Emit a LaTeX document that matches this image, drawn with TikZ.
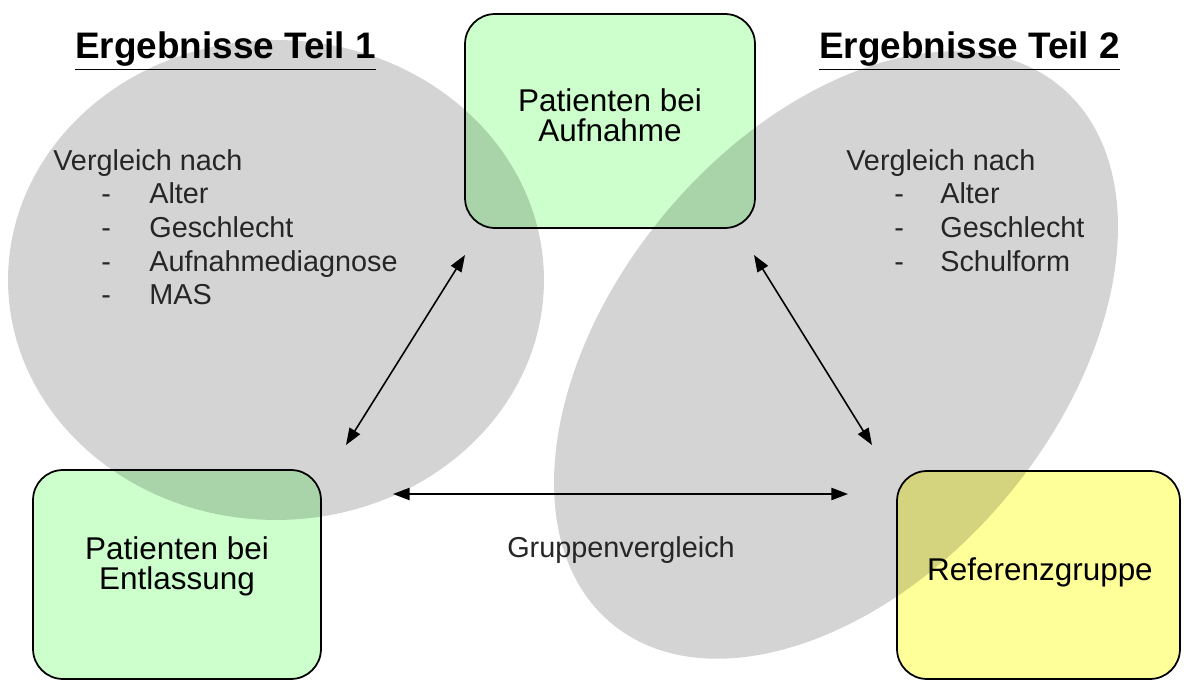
\documentclass[tikz,border=0pt]{standalone}
\usepackage{fontspec}
\setmainfont{Liberation Sans}
\usetikzlibrary{arrows.meta}
\definecolor{boxgreen}{HTML}{CCFFCC}
\definecolor{boxyellow}{HTML}{FFFF99}
\begin{document}
\begin{tikzpicture}[x=0.02cm,y=0.02cm,
  box/.style={draw=black, line width=1pt, rounded corners=0.6cm, inner sep=0pt},
  zone/.style={fill=black, fill opacity=0.17},
  hdr/.style={font=\fontsize{21}{25}\selectfont\bfseries, anchor=base, inner sep=0pt},
  lst/.style={font=\fontsize{16.4}{19}\selectfont, anchor=base west, inner sep=0pt, text=black!85},
  btxt/.style={font=\fontsize{17.9}{17}\selectfont, align=center, inner sep=0pt},
  link/.style={line width=0.9pt, {Triangle[length=9.5pt,width=7pt]}-{Triangle[length=9.5pt,width=7pt]}}
]
\useasboundingbox (0,0) rectangle (1184,680);

% boxes
\node[box, fill=boxgreen, minimum width=5.8cm, minimum height=4.28cm] (auf) at (610,559) {};
\node[box, fill=boxgreen, minimum width=5.76cm, minimum height=4.18cm] (ent) at (177,105.5) {};
\node[box, fill=boxyellow, minimum width=5.66cm, minimum height=4.16cm] (ref) at (1038.5,105) {};

% grey zones
\fill[zone] (276,400) ellipse [x radius=5.36cm, y radius=4.8cm];
\fill[zone, rotate around={50:(836,325)}] (836,325) ellipse [x radius=7cm, y radius=4.44cm];

% headers
\node[hdr] (h1) at (225.5,621) {\underline{Ergebnisse Teil 1}};
\node[hdr] (h2) at (969.5,621) {\underline{Ergebnisse Teil 2}};

% left list
\node[lst] (l0) at (53,509) {Vergleich nach};
\node[lst] (l1d) at (101,476) {-}; \node[lst] (l1) at (149,476) {Alter};
\node[lst] (l2d) at (101,442) {-}; \node[lst] (l2) at (149,442) {Geschlecht};
\node[lst] (l3d) at (101,408) {-}; \node[lst] (l3) at (149,408) {Aufnahmediagnose};
\node[lst] (l4d) at (101,375) {-}; \node[lst] (l4) at (149,375) {MAS};

% right list
\node[lst] (r0) at (846,509) {Vergleich nach};
\node[lst] (r1d) at (894,476) {-}; \node[lst] (r1) at (940,476) {Alter};
\node[lst] (r2d) at (894,442) {-}; \node[lst] (r2) at (940,442) {Geschlecht};
\node[lst] (r3d) at (894,408) {-}; \node[lst] (r3) at (940,408) {Schulform};

% box texts
\node[btxt] (audT) at (610,564.5) {Patienten bei\\Aufnahme};
\node[btxt] (entT) at (177,114) {Patienten bei\\Entlassung};
\node[btxt, anchor=base] (refT) at (1040,99) {Referenzgruppe};
\node[lst, anchor=base] (gv) at (621,122) {Gruppenvergleich};

% connectors
\coordinate (a1) at (465,425);
\coordinate (a2) at (346,235);
\coordinate (b1) at (754,425);
\coordinate (b2) at (872,235);
\coordinate (c1) at (393,186);
\coordinate (c2) at (848,186);
\draw[link] (a1) -- (a2);
\draw[link] (b1) -- (b2);
\draw[link] (c1) -- (c2);
\end{tikzpicture}
\end{document}
